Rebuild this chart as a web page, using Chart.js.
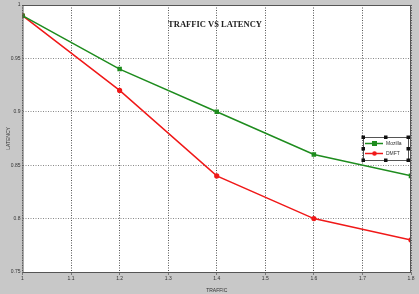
<!DOCTYPE html>
<html><head><meta charset="utf-8">
<script src="https://cdn.jsdelivr.net/npm/chart.js@4/dist/chart.umd.min.js"></script>
<style>html,body{margin:0;padding:0;background:#c8c8c8;}#w{width:419px;height:294px;}</style>
</head><body><div id="w"><canvas id="c" width="419" height="294"></canvas></div>
<script>
const traffic = [1, 1.2, 1.4, 1.6, 1.8];
const mozilla = [0.99, 0.94, 0.90, 0.86, 0.84];
const dmft = [0.99, 0.92, 0.84, 0.80, 0.78];
const seriesNames = ["Mozilla", "DMFT"];
const chartTitle = "TRAFFIC VS LATENCY";
const xTitle = "TRAFFIC";
const yTitle = "LATENCY";

const bgPlugin = {
  id: 'bg',
  beforeDraw(chart) {
    const ctx = chart.ctx, a = chart.chartArea;
    ctx.save();
    ctx.fillStyle = '#c8c8c8';
    ctx.fillRect(0, 0, chart.width, chart.height);
    ctx.fillStyle = '#ffffff';
    ctx.fillRect(a.left, a.top, a.right - a.left, a.bottom - a.top);
    ctx.restore();
  },
  afterDraw(chart) {
    const ctx = chart.ctx, a = chart.chartArea;
    ctx.save();
    ctx.strokeStyle = '#555';
    ctx.lineWidth = 1;
    ctx.strokeRect(a.left + 0.5, a.top + 0.5, a.right - a.left - 1, a.bottom - a.top);
    ctx.fillStyle = '#222';
    ctx.font = 'bold 8.5px "Liberation Serif"';
    ctx.textAlign = 'center';
    ctx.textBaseline = 'middle';
    ctx.fillText(chartTitle, 215, 25);
    const bx = 363, by = 137, bw = 45, bh = 23;
    ctx.fillStyle = '#fff';
    ctx.fillRect(bx, by, bw, bh);
    ctx.strokeStyle = '#555';
    ctx.strokeRect(bx + 0.5, by + 0.5, bw, bh);
    ctx.fillStyle = '#111';
    const hs = [[bx, by], [bx + bw / 2, by], [bx + bw, by], [bx, by + bh / 2], [bx + bw, by + bh / 2], [bx, by + bh], [bx + bw / 2, by + bh], [bx + bw, by + bh]];
    hs.forEach(p => ctx.fillRect(p[0] - 1.5, p[1] - 1.5, 3.5, 3.5));
    const ds = chart.data.datasets;
    ds.forEach((d, i) => {
      const y = by + 6.5 + i * 10;
      ctx.strokeStyle = d.borderColor;
      ctx.lineWidth = 1.5;
      ctx.beginPath(); ctx.moveTo(365, y); ctx.lineTo(383, y); ctx.stroke();
      ctx.fillStyle = d.borderColor;
      if (i === 0) ctx.fillRect(372, y - 2.5, 5, 5);
      else { ctx.beginPath(); ctx.arc(374.5, y, 2.3, 0, Math.PI * 2); ctx.fill(); }
      ctx.fillStyle = '#333';
      ctx.font = '5px "Liberation Sans"';
      ctx.textAlign = 'left';
      ctx.fillText(d.label, 386, y);
    });
    ctx.restore();
  }
};

new Chart(document.getElementById('c'), {
  type: 'line',
  data: {
    datasets: [
      { label: seriesNames[0], data: traffic.map((x, i) => ({x, y: mozilla[i]})), borderColor: '#1e8c1e', backgroundColor: '#1e8c1e', borderWidth: 1.5, pointStyle: 'rect', pointRadius: 3.2, pointBorderWidth: 0 },
      { label: seriesNames[1], data: traffic.map((x, i) => ({x, y: dmft[i]})), borderColor: '#f01818', backgroundColor: '#f01818', borderWidth: 1.5, pointStyle: 'circle', pointRadius: 2.6, pointBorderWidth: 0 }
    ]
  },
  options: {
    responsive: false,
    animation: false,
    layout: { padding: { top: 5, right: 8, left: 2, bottom: 0 } },
    plugins: { legend: { display: false }, title: { display: false }, tooltip: { enabled: false } },
    scales: {
      x: {
        type: 'linear', min: 1, max: 1.8,
        border: { display: false, dash: [1, 1.5] },
        grid: { color: '#555', lineWidth: 1, tickLength: 3, drawTicks: true, tickColor: '#777' },
        ticks: { stepSize: 0.1, color: '#333', font: { size: 5, family: 'Liberation Sans' }, padding: 1, maxRotation: 0,
          callback: v => (Math.round(v * 10) / 10).toString() },
        title: { display: true, text: xTitle, color: '#333', font: { size: 5, family: 'Liberation Sans' }, padding: { top: 0, bottom: 0 } },
        afterFit: s => { s.height = 22; }
      },
      y: {
        min: 0.75, max: 1,
        border: { display: false, dash: [1, 1.5] },
        grid: { color: '#888', lineWidth: 1, drawTicks: false },
        ticks: { stepSize: 0.05, color: '#333', font: { size: 5, family: 'Liberation Sans' }, padding: 2,
          callback: v => (Math.round(v * 100) / 100).toString() },
        title: { display: true, text: yTitle, color: '#333', font: { size: 5, family: 'Liberation Sans' }, padding: { top: 4, bottom: 0 } },
        afterFit: s => { s.width = 20.5; }
      }
    }
  },
  plugins: [bgPlugin]
});
</script></body></html>
